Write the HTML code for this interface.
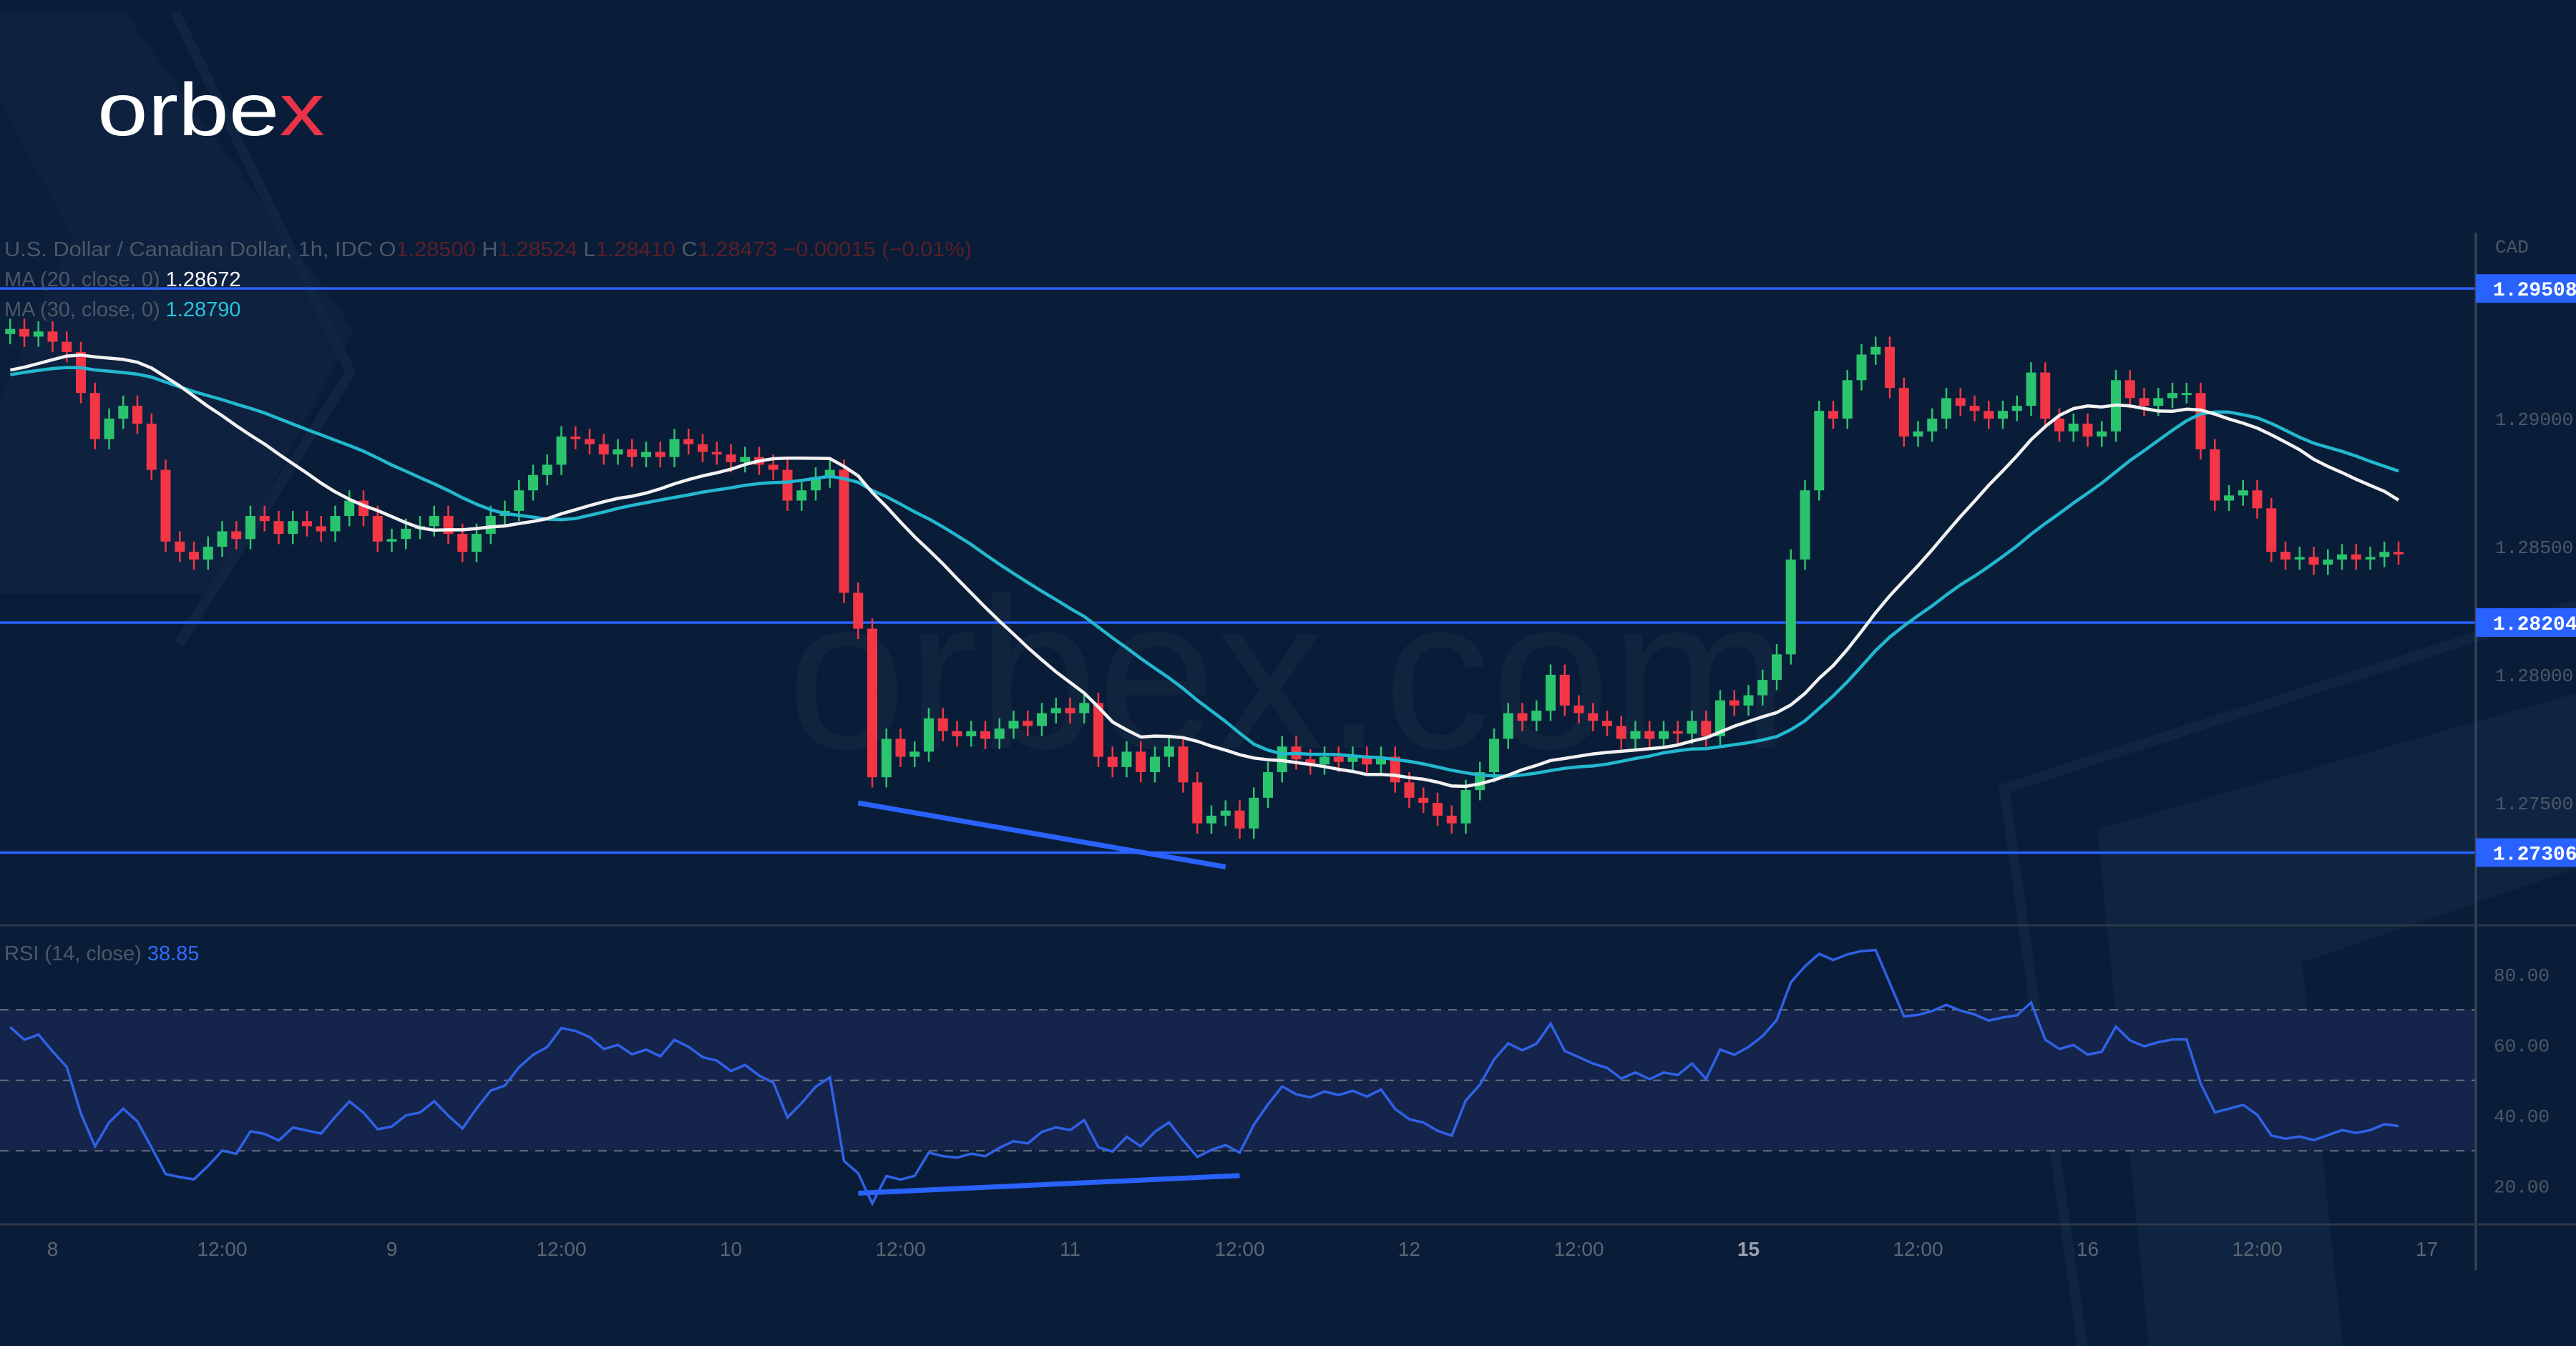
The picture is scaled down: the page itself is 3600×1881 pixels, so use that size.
<!DOCTYPE html>
<html><head><meta charset="utf-8"><title>USDCAD 1h chart</title>
<style>
html,body{margin:0;padding:0;background:#0a1d38;}
svg{display:block;}
text{font-family:"Liberation Sans",sans-serif;}
.mono{font-family:"Liberation Mono",monospace;}
.narrow{font-family:"Liberation Sans Narrow","Liberation Sans",sans-serif;}
</style></head>
<body>
<svg id="chart" width="3600" height="1881" viewBox="0 0 3600 1881" xmlns="http://www.w3.org/2000/svg">
  <rect x="0" y="0" width="3600" height="1881" fill="#0a1d38"/>
  <g>
    <polygon points="0,18 175,18 494,460 300,830 0,830" fill="#0f223f" opacity="0.85"/>
    <polygon points="0,140 100,330 0,560" fill="#0a1d38" opacity="0.6"/>
    <polyline points="245,18 490,520 250,900" fill="none" stroke="#102541" stroke-width="14"/>
    <polygon points="2931,1159 3600,969 3600,1881 3003,1881" fill="#0f2440"/>
    <polygon points="3217,1345 3600,1214 3600,1881 3274,1881" fill="#0a1d38"/>
    <polyline points="3600,845 2801,1102 2910,1881" fill="none" stroke="#102541" stroke-width="14"/>
  </g>
  <text x="1800" y="1045" text-anchor="middle" font-size="300" fill="#ffffff" fill-opacity="0.03">orbex.com</text>
  <g>
    <text x="136" y="189" font-size="104" fill="#ffffff" textLength="318" lengthAdjust="spacingAndGlyphs">orbe<tspan fill="#e8334a">x</tspan></text>
  </g>
  <g id="rsiBand"></g>
  <g id="grid"></g>
  <g id="levels"></g>
  <g id="candles"></g>
  <g id="mas"></g>
  <g id="rsi"></g>
  <g id="trend"></g>
  <g id="axes"></g>
  <g>
    <text class="narrow" x="6" y="358" font-size="29" fill="#4e5766" textLength="1352" lengthAdjust="spacingAndGlyphs">U.S. Dollar / Canadian Dollar, 1h, IDC  O<tspan fill="#5a1f28">1.28500</tspan>  H<tspan fill="#5a1f28">1.28524</tspan>  L<tspan fill="#5a1f28">1.28410</tspan>  C<tspan fill="#5a1f28">1.28473</tspan>  <tspan fill="#5a1f28">−0.00015 (−0.01%)</tspan></text>
    <text class="narrow" x="6" y="400" font-size="29" fill="#4e5766">MA (20, close, 0)  <tspan fill="#ffffff">1.28672</tspan></text>
    <text class="narrow" x="6" y="442" font-size="29" fill="#4e5766">MA (30, close, 0)  <tspan fill="#26c6da">1.28790</tspan></text>
    <text class="narrow" x="6" y="1342" font-size="29" fill="#4e5766">RSI (14, close)  <tspan fill="#2f6bff">38.85</tspan></text>
  </g>
</svg>
<script>
// ---- data ----
const warmup = [1.2905,1.2910,1.2908,1.2915,1.2912,1.2918,1.2915,1.2920,1.2918,1.2914,1.2910,1.2905,1.2900,1.2898,1.2902,1.2906,1.2910,1.2915,1.2920,1.2925,1.2922,1.2918,1.2925,1.2930,1.2928,1.2932,1.2935,1.2930,1.2933];
const closes = [1.2935,1.2932,1.2934,1.2930,1.2926,1.2910,1.2892,1.2900,1.2905,1.2898,
1.2880,1.2852,1.2848,1.2845,1.2850,1.2856,1.2853,1.2862,1.2860,1.2855,
1.2860,1.2858,1.2856,1.2862,1.2868,1.2862,1.2852,1.2853,1.2857,1.2858,
1.2862,1.2855,1.2848,1.2855,1.2862,1.2864,1.2872,1.2878,1.2882,1.2893,
1.2892,1.2890,1.2886,1.2888,1.2885,1.2887,1.2885,1.2892,1.2890,1.2887,
1.2886,1.2883,1.2885,1.2882,1.2880,1.2868,1.2872,1.2877,1.2880,1.2832,
1.2818,1.2760,1.2775,1.2768,1.2770,1.2783,1.2778,1.2776,1.2778,1.2775,
1.2779,1.2782,1.2780,1.2785,1.2787,1.2785,1.2789,1.2768,1.2764,1.2770,
1.2762,1.2768,1.2772,1.2758,1.2742,1.2745,1.2747,1.2740,1.2752,1.2762,
1.2772,1.2767,1.2765,1.2768,1.2766,1.2768,1.2765,1.2768,1.2758,1.2752,
1.2750,1.2745,1.2742,1.2755,1.2762,1.2775,1.2785,1.2782,1.2786,1.2800,
1.2788,1.2785,1.2782,1.2780,1.2775,1.2778,1.2775,1.2778,1.2777,1.2782,
1.2776,1.2790,1.2788,1.2792,1.2798,1.2808,1.2845,1.2872,1.2903,1.2900,
1.2915,1.2925,1.2928,1.2912,1.2893,1.2895,1.2900,1.2908,1.2905,1.2903,
1.2900,1.2903,1.2905,1.2918,1.2900,1.2895,1.2898,1.2893,1.2895,1.2915,
1.2908,1.2905,1.2908,1.2910,1.2910,1.2888,1.2868,1.2870,1.2872,1.2865,
1.2848,1.2845,1.2846,1.2843,1.2845,1.2847,1.2845,1.2846,1.2848,1.2847];
const firstHour = -3;
const levels = [1.29508, 1.28204, 1.27306];
const priceTicks = [1.29, 1.285, 1.28, 1.275];
const rsiTicks = [80, 60, 40, 20];
const rsiGuides = [70, 50, 30];
const timeHours = [0,12,24,36,48,60,72,84,96,108,120,132,144,156,168];
const timeLabels = ["8","12:00","9","12:00","10","12:00","11","12:00","12","12:00","15","12:00","16","12:00","17"];
const priceDivergence = [[58, 1.2750],[84, 1.2725]];
const rsiDivergence = [[58, 18],[85, 23]];

// ---- axes ----
const NS = "http://www.w3.org/2000/svg";
const X = h => 73.5 + h * 19.75;
const Y = p => 585 + (1.29 - p) * 35800;
const R = r => 1559 - (r - 40) * 4.93;
const PLOT_R = 3460;
function mk(tag, attrs, parent) {
  const e = document.createElementNS(NS, tag);
  for (const k in attrs) e.setAttribute(k, attrs[k]);
  parent.appendChild(e);
  return e;
}
const $ = id => document.getElementById(id);

const band = $('rsiBand');
mk('rect', {x:0, y:R(70), width:PLOT_R, height:R(30)-R(70), fill:'#15244a'}, band);
const grid = $('grid');


rsiGuides.forEach(g => {
  const l = mk('line', {x1:0, x2:PLOT_R, y1:R(g), y2:R(g), stroke:'#6a7280', 'stroke-width':2, 'stroke-dasharray':'12 10'}, grid);
  
  
});

const cg = $('candles');
closes.forEach((c, k) => {
  const o = k === 0 ? warmup[warmup.length - 1] : closes[k - 1];
  const hi = Math.max(o, c) + 0.0004, lo = Math.min(o, c) - 0.0004;
  const x = X(firstHour + k);
  const col = c >= o ? '#2bc46e' : '#f23645';
  const g = mk('g', {}, cg);
  
  
  mk('line', {x1:x, x2:x, y1:Y(hi), y2:Y(lo), stroke:col, 'stroke-width':2.5}, g);
  const top = Y(Math.max(o, c)), h = Math.max(3, Y(Math.min(o, c)) - top);
  mk('rect', {x:x-7, y:top, width:14, height:h, fill:col}, g);
});

const all = warmup.concat(closes);
function sma(n) {
  const out = [];
  for (let k = 0; k < closes.length; k++) {
    const j = k + warmup.length;
    let s = 0, cnt = 0;
    for (let t = Math.max(0, j - n + 1); t <= j; t++) { s += all[t]; cnt++; }
    out.push(s / cnt);
  }
  return out;
}
const mas = $('mas');
[[30,'#22b8cf'],[20,'#f2f2f2']].forEach(([n, col]) => {
  const v = sma(n);
  const d = v.map((p, k) => (k ? 'L' : 'M') + X(firstHour + k).toFixed(1) + ',' + Y(p).toFixed(1)).join('');
  const p = mk('path', {d:d, fill:'none', stroke:col, 'stroke-width':4.5, 'stroke-linejoin':'round'}, mas);
  
  
});

function rsiCalc() {
  let ag = 0, al = 0; const out = [];
  for (let j = 1; j < all.length; j++) {
    const ch = all[j] - all[j-1];
    const g = Math.max(ch, 0), l = Math.max(-ch, 0);
    if (j <= 14) { ag += g / 14; al += l / 14; }
    else { ag = (ag * 13 + g) / 14; al = (al * 13 + l) / 14; }
    if (j >= warmup.length) out.push(al === 0 ? 100 : 100 - 100 / (1 + ag / al));
  }
  return out;
}
const rv = rsiCalc();
const rg = $('rsi');
const rp = mk('path', {d: rv.map((r, k) => (k ? 'L' : 'M') + X(firstHour + k).toFixed(1) + ',' + R(Math.max(10, Math.min(92, r))).toFixed(1)).join(''), fill:'none', stroke:'#2f62e8', 'stroke-width':3.5}, rg);



const lv = $('levels');
levels.forEach(p => {
  const l = mk('line', {x1:0, x2:PLOT_R, y1:Y(p), y2:Y(p), stroke:'#2962ff', 'stroke-width':3.5}, lv);
  
  
});

const tg = $('trend');
const t1 = mk('line', {x1:X(priceDivergence[0][0]-1), y1:Y(priceDivergence[0][1]), x2:X(priceDivergence[1][0]-1), y2:Y(priceDivergence[1][1]), stroke:'#2962ff', 'stroke-width':7}, tg);


const t2 = mk('line', {x1:X(rsiDivergence[0][0]-1), y1:R(rsiDivergence[0][1]), x2:X(rsiDivergence[1][0]-1), y2:R(rsiDivergence[1][1]), stroke:'#2962ff', 'stroke-width':7}, tg);



const ax = $('axes');
mk('line', {x1:PLOT_R, x2:PLOT_R, y1:325, y2:1775, stroke:'#3b4656', 'stroke-width':3}, ax);
mk('line', {x1:0, x2:3600, y1:1293, y2:1293, stroke:'#2c3748', 'stroke-width':3}, ax);
mk('line', {x1:0, x2:3600, y1:1711, y2:1711, stroke:'#2c3748', 'stroke-width':3}, ax);
const cad = mk('text', {x:3487, y:353, 'font-size':26, fill:'#4e5766', class:'mono'}, ax);
cad.textContent = 'CAD';


priceTicks.forEach(p => {
  const t = mk('text', {x:3487, y:Y(p)+9, 'font-size':26, fill:'#4e5766', class:'mono'}, ax);
  t.textContent = p.toFixed(5);
  
  
});
levels.forEach(p => {
  const r = mk('rect', {x:PLOT_R, y:Y(p)-20, width:140, height:40, fill:'#2962ff'}, ax);
  
  
  const t = mk('text', {x:3484, y:Y(p)+10, 'font-size':28, 'font-weight':'bold', fill:'#ffffff', class:'mono'}, ax);
  t.textContent = p.toFixed(5);
  
  
});
rsiTicks.forEach(r => {
  const t = mk('text', {x:3485, y:R(r)+9, 'font-size':26, fill:'#4e5766', class:'mono'}, ax);
  t.textContent = r.toFixed(2);
  
  
});
timeHours.forEach((h, k) => {
  const lab = timeLabels[k];
  const t = mk('text', {x:X(h), y:1755, 'font-size':28, 'text-anchor':'middle', fill: lab === '15' ? '#9aa1ad' : '#5c6573', 'font-weight': lab === '15' ? 'bold' : 'normal'}, ax);
  t.textContent = lab;
  
  
});
</script>
</body></html>
